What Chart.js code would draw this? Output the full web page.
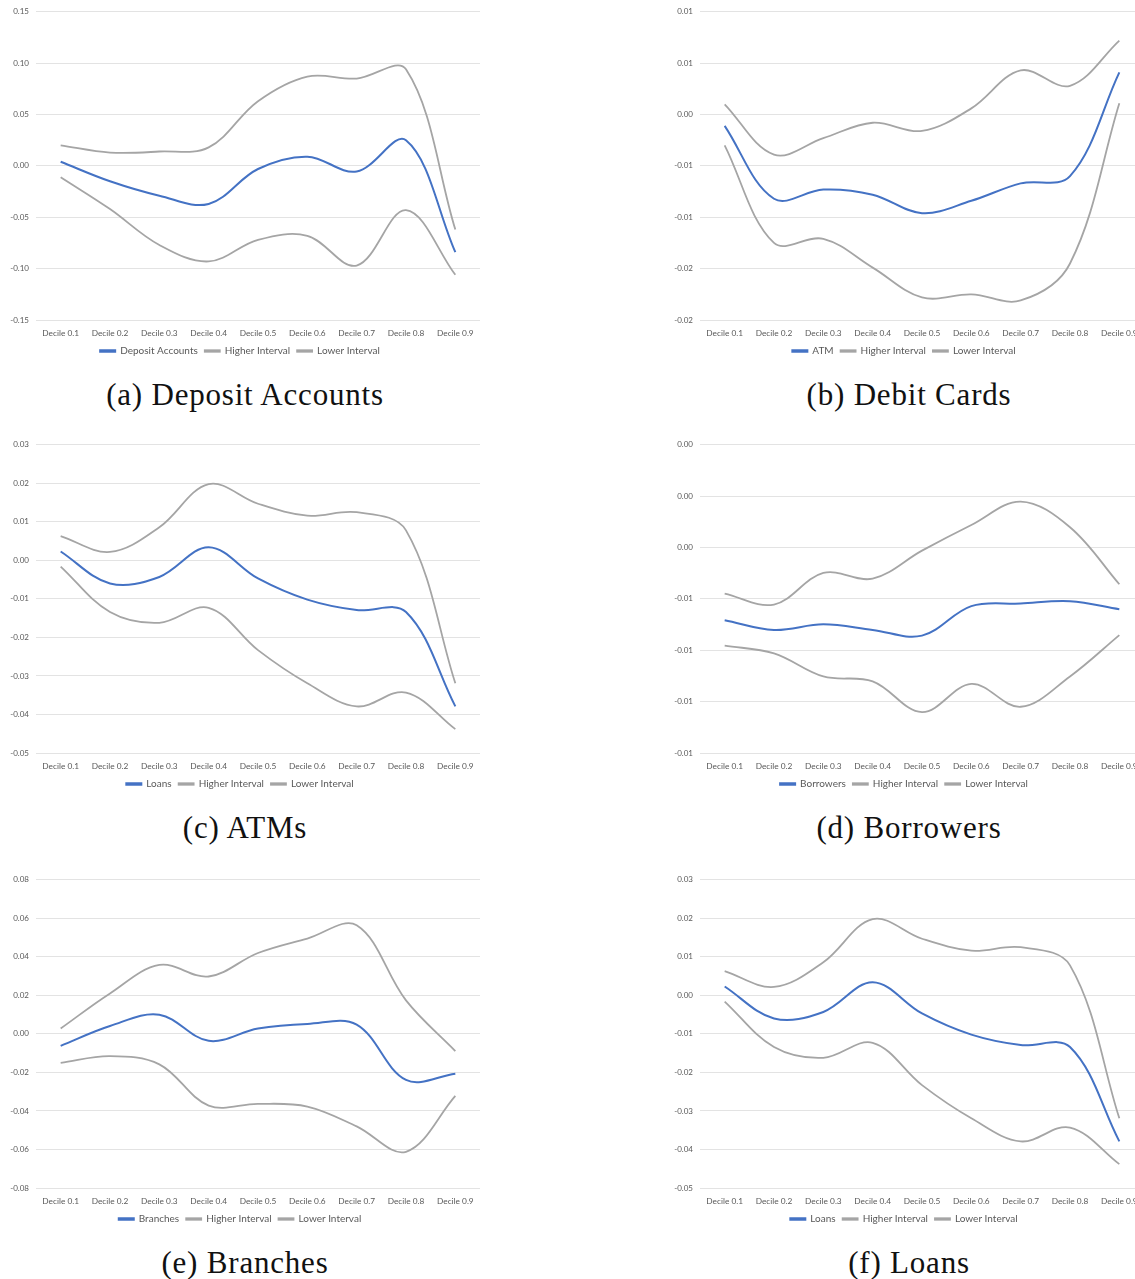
<!DOCTYPE html>
<html>
<head>
<meta charset="utf-8">
<title>Decile effects</title>
<script src="https://cdn.jsdelivr.net/npm/chart.js@4.4.1/dist/chart.umd.min.js"></script>
<style>
    html, body { margin: 0; padding: 0; background: #fff; overflow: hidden; }
    body { width: 1135px; height: 1279px; position: relative; }
    .panel { position: absolute; width: 490px; height: 420px; }
    .chart-box { position: absolute; left: 0; top: 0; width: 490px; height: 366px; }
    .caption {
        position: absolute; left: 0; width: 490px; top: 377px;
        text-align: center; font-family: "Liberation Serif", serif;
        font-size: 31px; color: #111; letter-spacing: 0.8px;
    }
</style>
</head>
<body>

<div class="panel" style="left:0;top:0"><div class="chart-box"><canvas id="chartA"></canvas></div><div class="caption">(a) Deposit Accounts</div></div>
<div class="panel" style="left:664px;top:0"><div class="chart-box"><canvas id="chartB"></canvas></div><div class="caption">(b) Debit Cards</div></div>
<div class="panel" style="left:0;top:433px"><div class="chart-box"><canvas id="chartC"></canvas></div><div class="caption">(c) ATMs</div></div>
<div class="panel" style="left:664px;top:433px"><div class="chart-box"><canvas id="chartD"></canvas></div><div class="caption">(d) Borrowers</div></div>
<div class="panel" style="left:0;top:868px"><div class="chart-box"><canvas id="chartE"></canvas></div><div class="caption">(e) Branches</div></div>
<div class="panel" style="left:664px;top:868px"><div class="chart-box"><canvas id="chartF"></canvas></div><div class="caption">(f) Loans</div></div>

<script>
// categories
const deciles = ['Decile 0.1', 'Decile 0.2', 'Decile 0.3', 'Decile 0.4', 'Decile 0.5',
                 'Decile 0.6', 'Decile 0.7', 'Decile 0.8', 'Decile 0.9'];

// (a) Deposit Accounts
const depositMain = [0.004, -0.015, -0.029, -0.037, -0.003, 0.009, -0.0055, 0.025, -0.084];
const depositHigh = [0.020, 0.013, 0.014, 0.018, 0.063, 0.087, 0.085, 0.094, -0.062];
const depositLow  = [-0.011, -0.042, -0.077, -0.093, -0.072, -0.068, -0.097, -0.043, -0.106];
const depositTicks = ['0.15', '0.10', '0.05', '0.00', '-0.05', '-0.10', '-0.15'];

// (b) Debit Cards
const atmMain = [-0.0011, -0.0082, -0.0073, -0.0078, -0.0096, -0.0084, -0.0067, -0.0060, 0.0041];
const atmHigh = [0.0010, -0.0039, -0.0023, -0.0008, -0.0016, 0.0006, 0.0043, 0.0028, 0.0072];
const atmLow  = [-0.0030, -0.0125, -0.0121, -0.0149, -0.0178, -0.0175, -0.0181, -0.0145, 0.0011];
const debitTicks = ['0.01', '0.01', '0.00', '-0.01', '-0.01', '-0.02', '-0.02'];

// (c) ATMs and (f) Loans share the same series
const loansMain = [0.0023, -0.0060, -0.0043, 0.0034, -0.0047, -0.0102, -0.0129, -0.0134, -0.0379];
const loansHigh = [0.0063, 0.0022, 0.0086, 0.0198, 0.0147, 0.0116, 0.0125, 0.0078, -0.0319];
const loansLow  = [-0.0016, -0.0134, -0.0162, -0.0123, -0.0233, -0.0319, -0.0379, -0.0343, -0.0438];
const loansTicks = ['0.03', '0.02', '0.01', '0.00', '-0.01', '-0.02', '-0.03', '-0.04', '-0.05'];

// (d) Borrowers
const borrowersMain = [-0.00283, -0.00321, -0.00299, -0.00321, -0.00343, -0.00228, -0.00218, -0.00209, -0.00240];
const borrowersHigh = [-0.00179, -0.00222, -0.00099, -0.00121, -0.00012, 0.00088, 0.00179, 0.00079, -0.00143];
const borrowersLow  = [-0.00382, -0.00412, -0.00502, -0.00521, -0.00641, -0.00531, -0.00620, -0.00502, -0.00341];
const borrowersTicks = ['0.00', '0.00', '0.00', '-0.01', '-0.01', '-0.01', '-0.01'];

// (e) Branches
const branchesMain = [-0.0062, 0.0041, 0.0100, -0.0036, 0.0028, 0.0052, 0.0048, -0.0239, -0.0207];
const branchesHigh = [0.0028, 0.0210, 0.0358, 0.0298, 0.0420, 0.0495, 0.0564, 0.0174, -0.0089];
const branchesLow  = [-0.0150, -0.0115, -0.0158, -0.0372, -0.0363, -0.0377, -0.0480, -0.0612, -0.0322];
const branchesTicks = ['0.08', '0.06', '0.04', '0.02', '0.00', '-0.02', '-0.04', '-0.06', '-0.08'];

const BLUE = '#4472C4';
const GREY = '#A5A5A5';
const TEXT = '#595959';

/**
 * Build one Excel-style decile chart.
 * @param {string} id - canvas id
 * @param {string} name - legend label of the point estimate
 * @param {number[]} main
 * @param {number[]} high
 * @param {number[]} low
 * @param {string[]} tickLabels - top to bottom, as printed
 * @param {number} min
 * @param {number} max
 * @param {number} step
 */
function makeChart(id, name, main, high, low, tickLabels, min, max, step) {
    const line = (label, data, color, width) => ({
        label: label,
        data: data,
        borderColor: color,
        backgroundColor: color,
        borderWidth: width,
        pointRadius: 0,
        tension: 0.36,
        fill: false
    });

    return new Chart(document.getElementById(id), {
        type: 'line',
        data: {
            labels: deciles,
            datasets: [
                line(name, main, BLUE, 2),
                line('Higher Interval', high, GREY, 1.8),
                line('Lower Interval', low, GREY, 1.8)
            ]
        },
        options: {
            responsive: true,
            maintainAspectRatio: false,
            animation: false,
            layout: { padding: { top: 10, right: 10, left: 0, bottom: 0 } },
            plugins: {
                tooltip: { enabled: false },
                legend: {
                    position: 'bottom',
                    labels: {
                        color: TEXT,
                        font: { family: 'Lato', size: 10 },
                        boxWidth: 15,
                        boxHeight: 1.5,
                        padding: 7
                    }
                }
            },
            scales: {
                x: {
                    offset: true,
                    // labels are clipped to the axis box, keep it just tall enough
                    afterFit: scale => { scale.height = 19; },
                    grid: { display: false, drawTicks: false },
                    border: { display: false },
                    ticks: {
                        color: TEXT,
                        font: { family: 'Lato', size: 8.3 },
                        padding: 8,
                        maxRotation: 0,
                        autoSkip: false
                    }
                },
                y: {
                    min: min,
                    max: max,
                    afterFit: scale => { scale.width = 36; },
                    grid: { color: '#E3E3E3', drawTicks: false },
                    border: { display: false },
                    ticks: {
                        stepSize: step,
                        color: TEXT,
                        font: { family: 'Lato', size: 8 },
                        padding: 7,
                        callback: (value, index, ticks) => tickLabels[ticks.length - 1 - index]
                    }
                }
            }
        }
    });
}

makeChart('chartA', 'Deposit Accounts', depositMain, depositHigh, depositLow, depositTicks, -0.15, 0.15, 0.05);
makeChart('chartB', 'ATM', atmMain, atmHigh, atmLow, debitTicks, -0.02, 0.01, 0.005);
makeChart('chartC', 'Loans', loansMain, loansHigh, loansLow, loansTicks, -0.05, 0.03, 0.01);
makeChart('chartD', 'Borrowers', borrowersMain, borrowersHigh, borrowersLow, borrowersTicks, -0.008, 0.004, 0.002);
makeChart('chartE', 'Branches', branchesMain, branchesHigh, branchesLow, branchesTicks, -0.08, 0.08, 0.02);
makeChart('chartF', 'Loans', loansMain, loansHigh, loansLow, loansTicks, -0.05, 0.03, 0.01);
</script>
</body>
</html>
